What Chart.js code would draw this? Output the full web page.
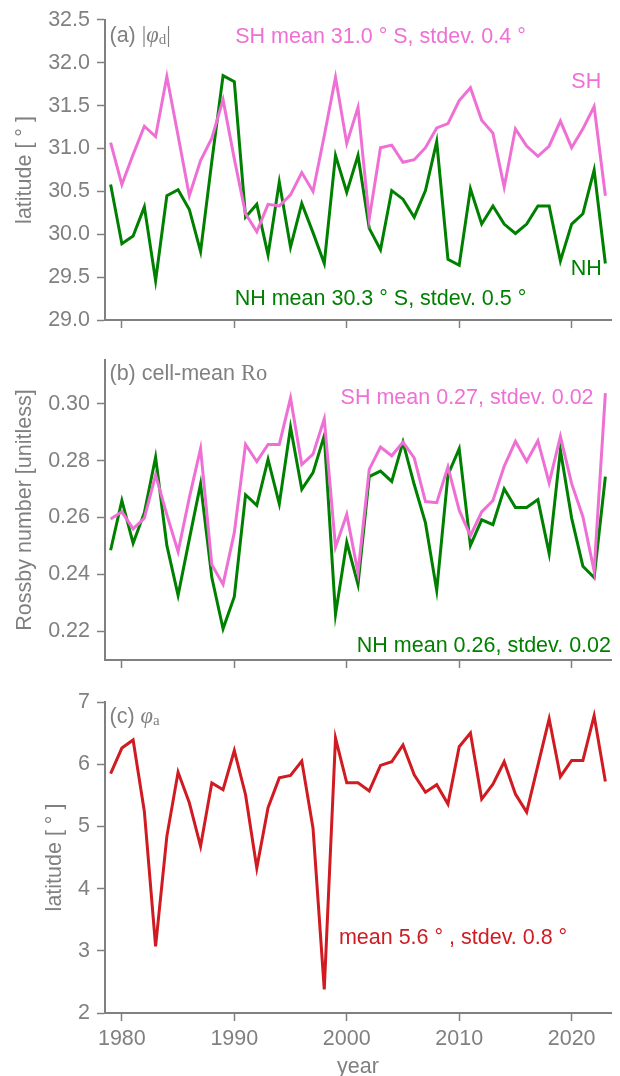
<!DOCTYPE html>
<html><head><meta charset="utf-8">
<script src="https://cdn.jsdelivr.net/npm/chart.js@4.4.1/dist/chart.umd.min.js"></script>
<style>
html,body{margin:0;padding:0;background:#fff;overflow:hidden;width:620px;height:1076px;}
canvas{position:absolute;left:0;}
</style></head><body>
<canvas id="ca" width="620" height="340" style="top:0px"></canvas>
<canvas id="cb" width="620" height="340" style="top:340px"></canvas>
<canvas id="cc" width="620" height="396" style="top:680px"></canvas>
<script>
const years = [1979,1980,1981,1982,1983,1984,1985,1986,1987,1988,1989,1990,1991,1992,1993,1994,1995,1996,1997,1998,1999,2000,2001,2002,2003,2004,2005,2006,2007,2008,2009,2010,2011,2012,2013,2014,2015,2016,2017,2018,2019,2020,2021,2022,2023];
const xTickYears = [1980,1990,2000,2010,2020];

const phiD_SH = [31.07,30.58,30.93,31.26,31.14,31.84,31.15,30.45,30.86,31.12,31.57,30.88,30.24,30.03,30.35,30.33,30.46,30.72,30.50,31.15,31.83,31.06,31.48,30.18,31.01,31.04,30.84,30.87,31.01,31.24,31.29,31.56,31.71,31.33,31.18,30.55,31.23,31.03,30.91,31.03,31.32,31.01,31.23,31.49,30.45];
const phiD_NH = [30.58,29.89,29.98,30.32,29.46,30.45,30.52,30.29,29.80,30.85,31.85,31.78,30.20,30.35,29.76,30.61,29.85,30.36,30.02,29.66,30.92,30.49,30.92,30.07,29.82,30.51,30.41,30.20,30.51,31.08,29.71,29.64,30.53,30.12,30.33,30.12,30.01,30.12,30.33,30.33,29.69,30.12,30.24,30.75,29.66];
const phiDTicks = [29.0,29.5,30.0,30.5,31.0,31.5,32.0,32.5];

const ro_SH = [0.2595,0.262,0.256,0.2598,0.275,0.261,0.248,0.267,0.2842,0.2434,0.2365,0.2547,0.2857,0.2797,0.2857,0.2857,0.302,0.2786,0.2823,0.2947,0.2496,0.2611,0.2406,0.2769,0.2848,0.2817,0.2865,0.281,0.2656,0.2652,0.2778,0.2626,0.2536,0.262,0.266,0.278,0.2868,0.2797,0.287,0.2722,0.2885,0.2719,0.2603,0.2412,0.3037];
const ro_NH = [0.2485,0.266,0.251,0.2617,0.2812,0.2502,0.2327,0.2524,0.2718,0.2389,0.2209,0.2322,0.268,0.2643,0.2804,0.2648,0.2917,0.2699,0.2758,0.2888,0.226,0.2513,0.2365,0.2744,0.2763,0.2727,0.2865,0.2716,0.2581,0.2344,0.275,0.2842,0.2502,0.2592,0.2575,0.2701,0.2635,0.2635,0.2663,0.2474,0.2837,0.2598,0.2429,0.2389,0.2744];
const roTicks = [0.22,0.24,0.26,0.28,0.30];

const phiA = [5.85,6.26,6.39,5.24,3.07,4.84,5.87,5.38,4.68,5.70,5.59,6.22,5.51,4.33,5.30,5.78,5.82,6.05,4.97,2.38,6.42,5.70,5.70,5.57,5.98,6.04,6.31,5.83,5.55,5.67,5.36,6.28,6.50,5.44,5.68,6.04,5.52,5.23,5.98,6.73,5.80,6.06,6.06,6.78,5.72];
const phiATicks = [2,3,4,5,6,7];

const PINK = '#ef70d5', GREEN = '#008000', RED = '#cf1b21', GRAY = '#808080';
const SANS = '"Liberation Sans", Arial, Helvetica, sans-serif';
const SERIF = '"Liberation Serif", "DejaVu Serif", serif';
const FS = 21.5;

function pts(vals){ return years.map((y,i)=>({x:y, y:vals[i]})); }

function drawRich(ctx, segs, x, y, align, color){
  let w = 0;
  segs.forEach(s=>{ ctx.font = s.font; s.w = ctx.measureText(s.t).width; w += s.w; });
  let cx = align==='center' ? x - w/2 : (align==='right' ? x - w : x);
  ctx.fillStyle = color; ctx.textBaseline = 'middle'; ctx.textAlign = 'left';
  segs.forEach(s=>{ ctx.font = s.font; ctx.fillText(s.t, cx, y + (s.dy||0)); cx += s.w; });
}
const sans = (t)=>({t, font: FS+'px '+SANS});
const serif = (t)=>({t, font: (FS+1)+'px '+SERIF});
const serifI = (t)=>({t, font: 'italic '+(FS+1)+'px '+SERIF});
const sub = (t)=>({t, font: Math.round(FS*0.72)+'px '+SERIF, dy: 4});

const textPlugin = {
  id:'texts',
  afterDraw(chart){
    const o = chart.options.plugins.texts; if(!o) return;
    const ctx = chart.ctx, xs = chart.scales.x, ys = chart.scales.y, ca = chart.chartArea;
    ctx.save();
    (o.items||[]).forEach(it=>{
      const px = xs.getPixelForValue(it.x), py = ys.getPixelForValue(it.y);
      drawRich(ctx, it.segs, px, py, it.align, it.color);
    });
    if (o.yTitle){
      ctx.translate(o.yTitleX, (ca.top+ca.bottom)/2);
      ctx.rotate(-Math.PI/2);
      ctx.font = FS+'px '+SANS; ctx.fillStyle = GRAY; ctx.textAlign='center'; ctx.textBaseline='middle';
      ctx.fillText(o.yTitle, 0, 0);
      ctx.setTransform(1,0,0,1,0,0);
    }
    if (o.xTitle){
      ctx.font = FS+'px '+SANS; ctx.fillStyle = GRAY; ctx.textAlign='center'; ctx.textBaseline='middle';
      ctx.fillText(o.xTitle, (ca.left+ca.right)/2, ca.bottom + o.xTitleDy);
    }
    ctx.restore();
  }
};

function makePanel(id, datasets, yMin, yMax, yTicks, yDec, padTop, xH, showX, texts){
  return new Chart(document.getElementById(id), {
    type:'line',
    data:{ datasets: datasets.map(d=>({data: pts(d.vals), borderColor: d.color, borderWidth: 3, pointRadius: 0, tension: 0, fill:false})) },
    options:{
      responsive:false, animation:false, devicePixelRatio:1,
      layout:{ padding:{top: padTop, right: 9, left: 0, bottom: 0} },
      plugins:{ legend:{display:false}, tooltip:{enabled:false}, texts },
      scales:{
        x:{ type:'linear', min:1978.5, max:2023.5,
            afterBuildTicks: s=>{ s.ticks = xTickYears.map(v=>({value:v})); },
            afterFit: s=>{ s.height = xH; },
            grid:{ display:true, drawOnChartArea:false, drawTicks:true, tickLength:8, tickWidth:1.5, tickColor:GRAY },
            border:{ display:true, color:GRAY, width:2 },
            ticks:{ display: showX, color:GRAY, font:{family:SANS, size:FS}, padding:5, maxRotation:0, callback: v=>String(v) } },
        y:{ min:yMin, max:yMax,
            afterBuildTicks: s=>{ s.ticks = yTicks.map(v=>({value:v})); },
            afterFit: s=>{ s.width = 105; },
            grid:{ display:true, drawOnChartArea:false, drawTicks:true, tickLength:8, tickWidth:1.5, tickColor:GRAY },
            border:{ display:true, color:GRAY, width:2 },
            ticks:{ color:GRAY, font:{family:SANS, size:FS}, padding:7, callback: v=>Number(v).toFixed(yDec) } }
      }
    },
    plugins:[textPlugin]
  });
}

makePanel('ca', [{vals:phiD_SH, color:PINK},{vals:phiD_NH, color:GREEN}], 29, 32.5, phiDTicks, 1, 14, 14, false, {
  yTitle:'latitude [ ° ]', yTitleX:25,
  items:[
    {x:1978.9, y:32.31, align:'left', color:GRAY, segs:[sans('(a) '), serif('|'), serifI('φ'), sub('d'), serif('|')]},
    {x:2003.0, y:32.30, align:'center', color:PINK, segs:[sans('SH mean 31.0 ° S, stdev. 0.4 °')]},
    {x:2021.3, y:31.78, align:'center', color:PINK, segs:[sans('SH')]},
    {x:2021.3, y:29.59, align:'center', color:GREEN, segs:[sans('NH')]},
    {x:2003.0, y:29.25, align:'center', color:GREEN, segs:[sans('NH mean 30.3 ° S, stdev. 0.5 °')]}
  ]});

makePanel('cb', [{vals:ro_SH, color:PINK},{vals:ro_NH, color:GREEN}], 0.2099, 0.3154, roTicks, 2, 17, 11, false, {
  yTitle:'Rossby number [unitless]', yTitleX:25,
  items:[
    {x:1978.9, y:0.3104, align:'left', color:GRAY, segs:[sans('(b) cell-mean '), serif('Ro')]},
    {x:2010.7, y:0.3019, align:'center', color:PINK, segs:[sans('SH mean 0.27, stdev. 0.02')]},
    {x:2023.5, y:0.2148, align:'right', color:GREEN, segs:[sans('NH mean 0.26, stdev. 0.02')]}
  ]});

makePanel('cc', [{vals:phiA, color:RED}], 2, 7, phiATicks, 0, 22, 63, true, {
  yTitle:'latitude [ ° ]', yTitleX:55, xTitle:'year', xTitleDy:54,
  items:[
    {x:1978.9, y:6.76, align:'left', color:GRAY, segs:[sans('(c) '), serifI('φ'), sub('a')]},
    {x:1999.3, y:3.21, align:'left', color:RED, segs:[sans('mean 5.6 ° , stdev. 0.8 °')]}
  ]});
</script>
</body></html>
